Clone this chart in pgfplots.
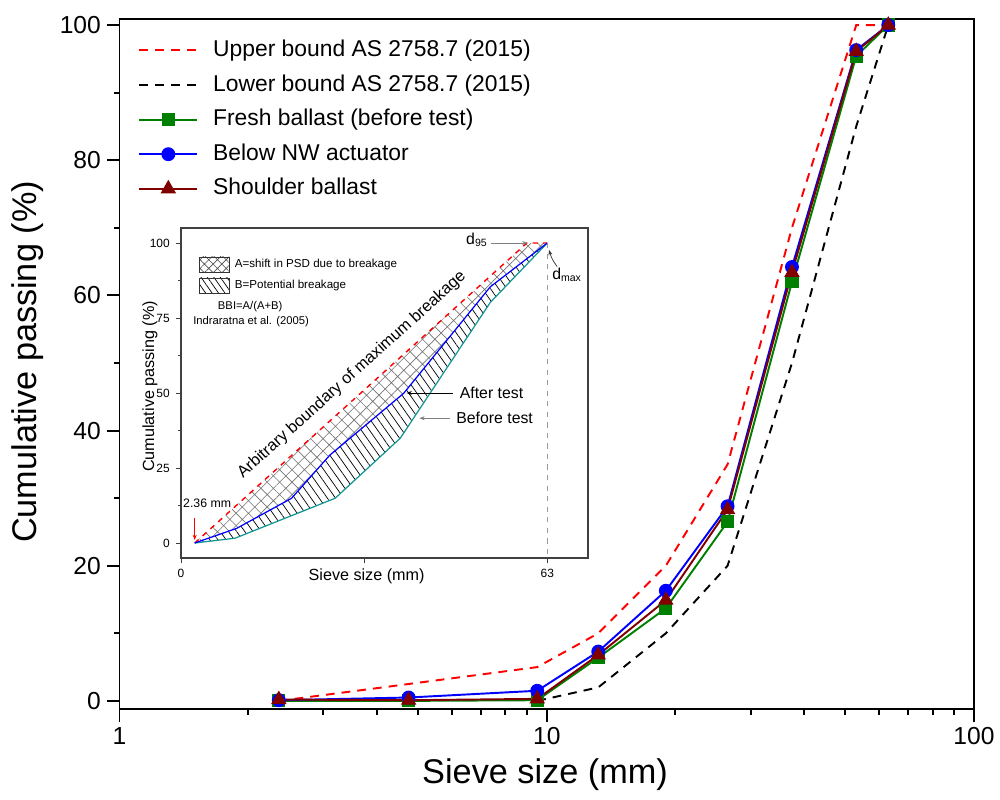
\documentclass[border=0pt]{standalone}
\usepackage{fontspec}
\setmainfont{Liberation Sans}
\usepackage{pgfplots}
\pgfplotsset{compat=1.18}
\usetikzlibrary{patterns.meta,arrows.meta}

\definecolor{fgreen}{RGB}{0,128,0}
\definecolor{sred}{RGB}{128,0,0}
\definecolor{tealc}{RGB}{20,150,150}

\begin{document}
\begin{tikzpicture}
\useasboundingbox (-2.39,-1.8) rectangle (17.61,14.18);
% main chart
\begin{axis}[
  at={(0,0)}, anchor=south west, scale only axis,
  width=17.09cm, height=13.8cm,
  xmode=log, xmin=1, xmax=100, ymin=-1.2, ymax=100.9,
  xtick={1,10,100}, xticklabels={1,10,100},
  minor xtick={2,3,4,5,6,7,8,9,20,30,40,50,60,70,80,90},
  ytick={0,20,...,100}, minor ytick={10,30,...,90},
  tick align=outside, tick pos=left,
  major tick length=0.25cm, minor tick length=0.11cm,
  axis line style={line width=1.1pt},
  every tick/.style={black,line width=1.1pt},
  /pgf/number format/assume math mode=true,
  tick label style={font=\fontsize{14}{16}\selectfont},
  label style={font=\fontsize{19.5}{23}\selectfont},
  xlabel={Sieve size (mm)}, ylabel={Cumulative passing (\%)},
  xlabel style={at={(axis description cs:0.498,-0.0957)}, anchor=center},
  ylabel style={at={(axis description cs:-0.107,0.503)}, anchor=center},
  clip=false,
  legend cell align=left,
  legend style={at={(0.0155,0.978)}, anchor=north west, draw=none, fill=none,
    font=\fontsize{13}{15}\selectfont, row sep=5.7pt,
    nodes={inner sep=0.5pt, text height=10pt, text depth=3pt}},
  legend image code/.code={\draw[mark repeat=2,mark phase=2,#1]
    plot coordinates {(0cm,0cm) (0.58cm,0cm) (1.16cm,0cm)};
    \path (1.44cm,0cm);},
]
\addplot[red, line width=1.1pt, dash pattern=on 5pt off 4pt] coordinates {
  (2.36,0) (4.75,2.5) (9.5,5) (13.2,10) (19,20) (26.5,35) (37.5,70) (53,100) (63,100)};
\addlegendentry{Upper bound AS 2758.7 (2015)}
\addplot[black, line width=1.1pt, dash pattern=on 5pt off 4pt] coordinates {
  (9.5,0) (13.2,2) (19,10) (26.5,20) (37.5,50) (53,85) (63,100)};
\addlegendentry{Lower bound AS 2758.7 (2015)}
\addplot[fgreen, line width=1.1pt, mark=square*, mark size=3.2pt, mark options={solid}] coordinates {
  (2.36,0) (4.75,0) (9.5,0.1) (13.2,6.4) (19,13.7) (26.5,26.5) (37.5,62) (53,95.4) (63,100)};
\addlegendentry{Fresh ballast (before test)}
\addplot[blue, line width=1.1pt, mark=*, mark size=3.4pt, mark options={solid}] coordinates {
  (2.36,0.1) (4.75,0.5) (9.5,1.5) (13.2,7.3) (19,16.3) (26.5,28.8) (37.5,64.2) (53,96.3) (63,100)};
\addlegendentry{Below NW actuator}
\addplot[sred, line width=1.1pt, mark=triangle*, mark size=4pt, mark options={solid}] coordinates {
  (2.36,0.2) (4.75,0.1) (9.5,0.3) (13.2,6.8) (19,14.9) (26.5,28.3) (37.5,63.4) (53,96.1) (63,100)};
\addlegendentry{Shoulder ballast}
\end{axis}

% inset
\begin{axis}[
  at={(1.23cm,3.02cm)}, anchor=south west, scale only axis,
  width=8.14cm, height=6.6cm,
  xmin=0, xmax=70, ymin=-5, ymax=105,
  xtick={0,31.5,63}, xticklabels={0,,63},
  ytick={0,25,...,100}, minor ytick={12.5,37.5,62.5,87.5},
  tick align=outside, tick pos=left,
  major tick length=0.1cm, minor tick length=0.06cm,
  axis line style={draw=black!75, line width=0.6pt},
  every tick/.style={black!75,line width=0.5pt},
  axis background/.style={fill=white},
  /pgf/number format/assume math mode=true,
  tick label style={font=\fontsize{6.8}{8}\selectfont},
  label style={font=\fontsize{9.2}{11}\selectfont},
  xlabel={Sieve size (mm)}, ylabel={Cumulative passing (\%)},
  xlabel style={at={(axis description cs:0.456,-0.057)}, anchor=center},
  ylabel style={at={(axis description cs:-0.076,0.52)}, anchor=center},
  legend cell align=left,
  legend style={at={(0.03,0.925)}, anchor=north west, draw=none, fill=none,
    font=\fontsize{6.6}{8}\selectfont, row sep=3pt,
    nodes={inner sep=1pt}},
]
\addplot[draw=none, pattern={Hatch[angle=45,distance=5pt,line width=0.35pt]}, pattern color=black!55,
  legend image code/.code={\draw[pattern={Hatch[angle=45,distance=3.5pt,line width=0.35pt]},
    pattern color=black!70, draw=black!80, line width=0.4pt] (0cm,-0.15cm) rectangle (0.6cm,0.15cm);
    \path (0.68cm,0cm);}]
  coordinates {(2.36,0) (59.5,100) (63,100) (53.2,85.4) (38.3,49.9) (25.6,29.3) (19.0,14.9) (9.6,4.9) (2.36,0)};
\addlegendentry{A=shift in PSD due to breakage}
\addplot[draw=none, pattern={Lines[angle=-55,distance=3.8pt,line width=0.4pt]}, pattern color=black,
  legend image code/.code={\draw[pattern={Lines[angle=-55,distance=3pt,line width=0.4pt]},
    pattern color=black, draw=black!80, line width=0.4pt] (0cm,-0.15cm) rectangle (0.6cm,0.15cm);
    \path (0.68cm,0cm);}]
  coordinates {(2.36,0) (9.6,4.9) (19.0,14.9) (25.6,29.3) (38.3,49.9) (53.2,85.4) (63,100)
    (53.2,80.2) (37.7,34.9) (26.5,14.9) (9.3,1.6) (2.36,0)};
\addlegendentry{B=Potential breakage}
\addplot[red, line width=0.8pt, dash pattern=on 3pt off 3pt, forget plot] coordinates {
  (2.36,0) (59.5,100) (63,100)};
\addplot[tealc, line width=0.7pt, forget plot] coordinates {
  (2.36,0) (9.3,1.6) (26.5,14.9) (37.7,34.9) (53.2,80.2) (63,100)};
\addplot[blue, line width=0.7pt, forget plot] coordinates {
  (2.36,0) (9.6,4.9) (19.0,14.9) (25.6,29.3) (38.3,49.9) (53.2,85.4) (63,100)};
\draw[black!40, dashed, line width=0.4pt] (axis cs:63,100) -- (axis cs:63,-5);
\node[font=\fontsize{6.4}{8}\selectfont] at (axis cs:11.9,78.8) {BBI=A/(A+B)};
\node[font=\fontsize{6.4}{8}\selectfont] at (axis cs:12.05,73.8) {Indraratna et al. (2005)};
\node[rotate=42, font=\fontsize{9.3}{11}\selectfont] at (axis cs:29.4,56.0) {Arbitrary boundary of maximum breakage};
\node[font=\fontsize{7}{8}\selectfont] at (axis cs:4.5,13.2) {2.36 mm};
\draw[red, line width=0.6pt, -{Stealth[length=3pt]}] (axis cs:2.36,8.2) -- (axis cs:2.36,1);
\node[anchor=west, font=\fontsize{9}{11}\selectfont] at (axis cs:46.9,49.9) {After test};
\draw[black, line width=0.4pt, -{Stealth[length=3pt]}] (axis cs:46.8,50) -- (axis cs:38.8,50);
\node[anchor=west, font=\fontsize{9}{11}\selectfont] at (axis cs:46.3,41.6) {Before test};
\draw[black!50, line width=0.4pt, -{Stealth[length=3pt]}] (axis cs:46.2,41.6) -- (axis cs:41.0,41.6);
\node[font=\fontsize{9}{11}\selectfont] at (axis cs:50.9,101) {d\textsubscript{95}};
\draw[black!50, line width=0.4pt, -{Stealth[length=3pt]}] (axis cs:53.4,100) -- (axis cs:59.6,100);
\node[font=\fontsize{9}{11}\selectfont] at (axis cs:66.4,89.3) {d\textsubscript{max}};
\draw[black!80, line width=0.4pt, -{Stealth[length=3pt]}] (axis cs:64.7,92.1) to[bend left=10] (axis cs:63.3,97.7);
\end{axis}
\end{tikzpicture}
\end{document}
